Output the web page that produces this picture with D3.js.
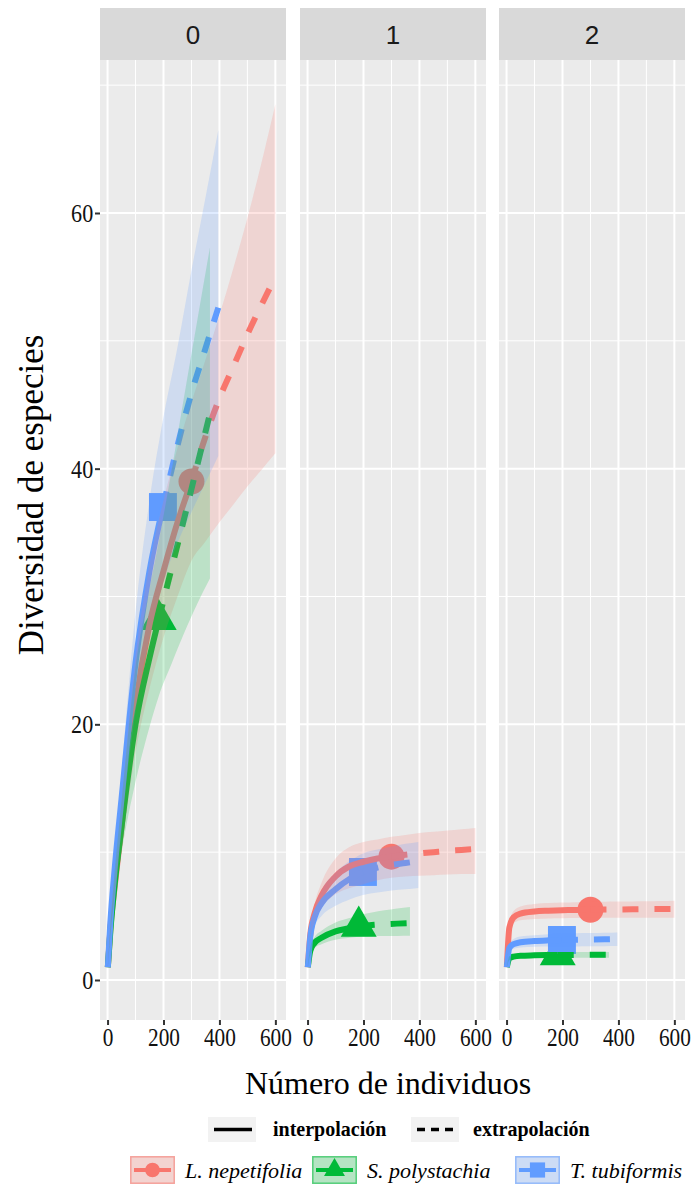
<!DOCTYPE html>
<html><head><meta charset="utf-8">
<script src="https://cdn.jsdelivr.net/npm/d3@7"></script>
<style>body{margin:0;background:#fff} svg{display:block}</style>
</head><body><svg id="c" width="691" height="1188"></svg>
<script>
// ---------- data ----------
const orders = ["0", "1", "2"];
const species = ["L. nepetifolia", "S. polystachia", "T. tubiformis"];
const colors = ["#F8766D", "#00BA38", "#619CFF"];
const obsN = [300, 183, 198];
const xTicks = [0, 200, 400, 600];
const yTicks = [0, 20, 40, 60];

const nL = [1, 10, 25, 50, 100, 150, 200, 250, 300, 350, 400, 450, 500, 550, 600];
const estL0 = [1, 4, 7.2, 12, 21.5, 27.8, 32, 35.8, 39, 42.5, 45.5, 48, 50.5, 52.8, 55];
const loL0 = [1, 3.5, 6.4, 10.2, 17.8, 22.8, 26.8, 30, 32.8, 34.3, 35.8, 37.2, 38.6, 39.9, 41.2];
const hiL0 = [1, 4.6, 8.2, 14, 25.3, 32.5, 37.5, 41.6, 45.2, 48.5, 52, 55.7, 59.6, 63.9, 68.5];
const estL1 = [1, 3.6, 5.2, 6.6, 8.1, 8.9, 9.25, 9.5, 9.65, 9.8, 9.9, 10.0, 10.1, 10.17, 10.25];
const loL1 = [1, 3.2, 4.5, 5.6, 6.7, 7.2, 7.5, 7.8, 8.0, 8.1, 8.15, 8.2, 8.25, 8.3, 8.3];
const hiL1 = [1, 4.0, 5.9, 7.6, 9.5, 10.4, 10.8, 11.0, 11.2, 11.35, 11.5, 11.6, 11.7, 11.8, 11.9];
const estL2 = [1, 4.1, 4.9, 5.2, 5.36, 5.42, 5.46, 5.48, 5.5, 5.51, 5.52, 5.53, 5.54, 5.55, 5.55];
const loL2 = [1, 3.7, 4.45, 4.68, 4.78, 4.82, 4.84, 4.85, 4.86, 4.86, 4.86, 4.86, 4.86, 4.86, 4.86];
const hiL2 = [1, 4.5, 5.4, 5.75, 5.95, 6.02, 6.06, 6.09, 6.11, 6.13, 6.14, 6.15, 6.16, 6.18, 6.2];

const nS = [1, 10, 25, 50, 100, 150, 183, 230, 275, 320, 366];
const estS0 = [1, 3.8, 7.4, 12, 20, 25.2, 28.2, 32.3, 36.2, 40.2, 44.3];
const loS0 = [1, 3.4, 6.5, 10, 15.5, 19.8, 22.2, 24.8, 27.2, 29.4, 31.4];
const hiS0 = [1, 4.2, 8.4, 14, 24.5, 30.6, 34.3, 40, 45.8, 51.5, 57.3];
const estS1 = [1, 2.3, 2.9, 3.3, 3.8, 4.05, 4.2, 4.3, 4.36, 4.41, 4.45];
const loS1 = [1, 2.0, 2.5, 2.8, 3.15, 3.3, 3.38, 3.42, 3.44, 3.45, 3.46];
const hiS1 = [1, 2.6, 3.35, 3.85, 4.5, 4.85, 5.05, 5.28, 5.45, 5.6, 5.72];
const estS2 = [1, 1.7, 1.83, 1.9, 1.93, 1.95, 1.96, 1.96, 1.97, 1.97, 1.97];
const loS2 = [1, 1.55, 1.65, 1.7, 1.72, 1.73, 1.74, 1.74, 1.74, 1.74, 1.74];
const hiS2 = [1, 1.85, 2.0, 2.08, 2.13, 2.16, 2.18, 2.19, 2.2, 2.2, 2.2];

const nT = [1, 10, 25, 50, 100, 150, 198, 250, 300, 350, 396];
const estT0 = [1, 4.5, 8.6, 14.2, 24.8, 32, 37, 41.8, 45.9, 49.4, 52.6];
const loT0 = [1, 4, 7.5, 12.2, 21, 26.8, 31, 34.2, 36.6, 38.9, 41];
const hiT0 = [1, 5, 9.8, 16.3, 28.8, 37.5, 43.8, 49.5, 55.5, 61.2, 66.5];
const estT1 = [1, 3.4, 4.9, 6.0, 7.1, 7.9, 8.45, 8.8, 9.0, 9.15, 9.3];
const loT1 = [1, 3.0, 4.2, 5.0, 5.8, 6.3, 6.65, 6.85, 7.0, 7.1, 7.2];
const hiT1 = [1, 3.8, 5.6, 7.0, 8.4, 9.3, 9.9, 10.2, 10.45, 10.65, 10.8];
const estT2 = [1, 2.5, 2.8, 2.95, 3.05, 3.1, 3.13, 3.15, 3.17, 3.18, 3.2];
const loT2 = [1, 2.2, 2.45, 2.55, 2.6, 2.62, 2.63, 2.63, 2.64, 2.64, 2.65];
const hiT2 = [1, 2.8, 3.2, 3.4, 3.5, 3.58, 3.63, 3.66, 3.68, 3.7, 3.72];

// ---------- assemble ----------
const sizes = [nL, nS, nT];
const est = [[estL0, estL1, estL2], [estS0, estS1, estS2], [estT0, estT1, estT2]];
const lo = [[loL0, loL1, loL2], [loS0, loS1, loS2], [loT0, loT1, loT2]];
const hi = [[hiL0, hiL1, hiL2], [hiS0, hiS1, hiS2], [hiT0, hiT1, hiT2]];

const svg = d3.select("#c");
const panelW = 186, panelTop = 60, panelBot = 1020;
const panelLefts = [100, 300, 499];
const serif = "'Liberation Serif','Times New Roman',serif";
const sans = "'Liberation Sans',Arial,sans-serif";

const x = d3.scaleLinear().domain([-27, 638]).range([0, panelW]);
const y = d3.scaleLinear().domain([0, 60]).range([980, 213]);

const defs = svg.append("defs");
defs.append("clipPath").attr("id", "clip").append("rect")
  .attr("x", 0).attr("y", panelTop).attr("width", panelW).attr("height", panelBot - panelTop);

const symbols = [d3.symbolCircle, d3.symbolTriangle, d3.symbolSquare];
const symSize = [530, 560, 780];

orders.forEach((q, qi) => {
  const g = svg.append("g").attr("transform", `translate(${panelLefts[qi]},0)`);
  // strip
  g.append("rect").attr("x", 0).attr("y", 8).attr("width", panelW).attr("height", 52).attr("fill", "#D9D9D9");
  g.append("text").attr("x", panelW / 2).attr("y", 44).attr("text-anchor", "middle")
    .attr("font-family", sans).attr("font-size", 26).attr("fill", "#1A1A1A").text(q);
  // panel bg
  g.append("rect").attr("x", 0).attr("y", panelTop).attr("width", panelW).attr("height", panelBot - panelTop).attr("fill", "#EBEBEB");
  // minor grid
  [10, 30, 50, 70].forEach(v => g.append("line").attr("x1", 0).attr("x2", panelW).attr("y1", y(v)).attr("y2", y(v)).attr("stroke", "#fff").attr("stroke-width", 1));
  [100, 300, 500].forEach(v => g.append("line").attr("y1", panelTop).attr("y2", panelBot).attr("x1", x(v)).attr("x2", x(v)).attr("stroke", "#fff").attr("stroke-width", 1));
  // major grid
  yTicks.forEach(v => g.append("line").attr("x1", 0).attr("x2", panelW).attr("y1", y(v)).attr("y2", y(v)).attr("stroke", "#fff").attr("stroke-width", 2));
  xTicks.forEach(v => g.append("line").attr("y1", panelTop).attr("y2", panelBot).attr("x1", x(v)).attr("x2", x(v)).attr("stroke", "#fff").attr("stroke-width", 2));

  // x axis
  const xa = g.append("g").attr("transform", `translate(0,${panelBot})`)
    .call(d3.axisBottom(x).tickValues(xTicks).tickSize(5).tickPadding(3));
  xa.select(".domain").remove();
  xa.selectAll(".tick line").attr("stroke", "#333").attr("stroke-width", 2);
  xa.selectAll(".tick text").attr("font-family", serif).attr("font-size", 26).attr("fill", "#111")
    .attr("transform", "scale(0.82,1)");

  const pg = g.append("g").attr("clip-path", "url(#clip)");
  const pts = [], lines = [], ribs = [];
  species.forEach((sp, si) => {
    const data = sizes[si].map((n, i) => ({ n, e: est[si][qi][i], l: lo[si][qi][i], h: hi[si][qi][i] }));
    const ob = data.find(d => d.n === obsN[si]);
    pts.push({ si, d: ob });
    lines.push({ si, type: "int", data: data.filter(d => d.n <= obsN[si]) });
    lines.push({ si, type: "ext", data: data.filter(d => d.n >= obsN[si]) });
    ribs.push({ si, data });
  });
  // points
  pts.forEach(p => {
    pg.append("path").attr("d", d3.symbol(symbols[p.si], symSize[p.si])())
      .attr("transform", `translate(${x(p.d.n)},${y(p.d.e)})`).attr("fill", colors[p.si]);
  });
  // lines
  const lineGen = d3.line().x(d => x(d.n)).y(d => y(d.e)).curve(d3.curveMonotoneX);
  [0, 1, 2].forEach(si => {
    lines.filter(l => l.si === si).forEach(l => {
      pg.append("path").attr("d", lineGen(l.data)).attr("fill", "none")
        .attr("stroke", colors[si]).attr("stroke-width", 6)
        .attr("stroke-dasharray", l.type === "ext" ? "16,16" : null);
    });
  });
  // ribbons
  const areaGen = d3.area().x(d => x(d.n)).y0(d => y(d.l)).y1(d => y(d.h)).curve(d3.curveMonotoneX);
  ribs.forEach(r => {
    pg.append("path").attr("d", areaGen(r.data)).attr("fill", colors[r.si]).attr("fill-opacity", 0.2);
  });
});

// y axis
const ya = svg.append("g").attr("transform", `translate(${panelLefts[0]},0)`)
  .call(d3.axisLeft(y).tickValues(yTicks).tickSize(5).tickPadding(3));
ya.select(".domain").remove();
ya.selectAll(".tick line").attr("stroke", "#333").attr("stroke-width", 2);
ya.selectAll(".tick text").attr("font-family", serif).attr("font-size", 26).attr("fill", "#111")
  .attr("transform", "scale(0.85,1)");

// axis titles
svg.append("text").attr("x", 388).attr("y", 1094).attr("text-anchor", "middle")
  .attr("font-family", serif).attr("font-size", 32).attr("fill", "#000").text("Número de individuos");
svg.append("text").attr("transform", "translate(43,495) rotate(-90)").attr("text-anchor", "middle")
  .attr("font-family", serif).attr("font-size", 35).attr("fill", "#000").text("Diversidad de especies");

// legend row 1 (method)
const methods = ["interpolación", "extrapolación"];
const mKeyX = [208, 411], mTextX = [273, 473];
methods.forEach((m, i) => {
  svg.append("rect").attr("x", mKeyX[i]).attr("y", 1117).attr("width", 48).attr("height", 25).attr("fill", "#F2F2F2");
  svg.append("line").attr("x1", mKeyX[i] + 6).attr("x2", mKeyX[i] + 44).attr("y1", 1129.5).attr("y2", 1129.5)
    .attr("stroke", "#000").attr("stroke-width", 3.5).attr("stroke-dasharray", i === 1 ? "8,6" : null);
  svg.append("text").attr("x", mTextX[i]).attr("y", 1136).attr("font-family", serif).attr("font-weight", "bold")
    .attr("font-size", 20).attr("fill", "#000").text(m);
});

// legend row 2 (species)
const sKeyX = [130, 312, 515], sTextX = [185, 367, 570];
species.forEach((sp, si) => {
  const kx = sKeyX[si], ky = 1156, kw = 45, kh = 28;
  svg.append("rect").attr("x", kx).attr("y", ky).attr("width", kw).attr("height", kh).attr("fill", "#F2F2F2");
  svg.append("rect").attr("x", kx + 0.75).attr("y", ky + 0.75).attr("width", kw - 1.5).attr("height", kh - 1.5)
    .attr("fill", colors[si]).attr("fill-opacity", 0.25).attr("stroke", colors[si]).attr("stroke-opacity", 0.6).attr("stroke-width", 1.5);
  svg.append("line").attr("x1", kx + 4).attr("x2", kx + kw - 4).attr("y1", ky + kh / 2).attr("y2", ky + kh / 2)
    .attr("stroke", colors[si]).attr("stroke-width", 4);
  svg.append("path").attr("d", d3.symbol(symbols[si], [170, 190, 230][si])())
    .attr("transform", `translate(${kx + kw / 2},${ky + kh / 2})`).attr("fill", colors[si]);
  svg.append("text").attr("x", sTextX[si]).attr("y", 1178).attr("font-family", serif).attr("font-style", "italic")
    .attr("font-size", 22).attr("fill", "#000").text(sp);
});
</script></body></html>
